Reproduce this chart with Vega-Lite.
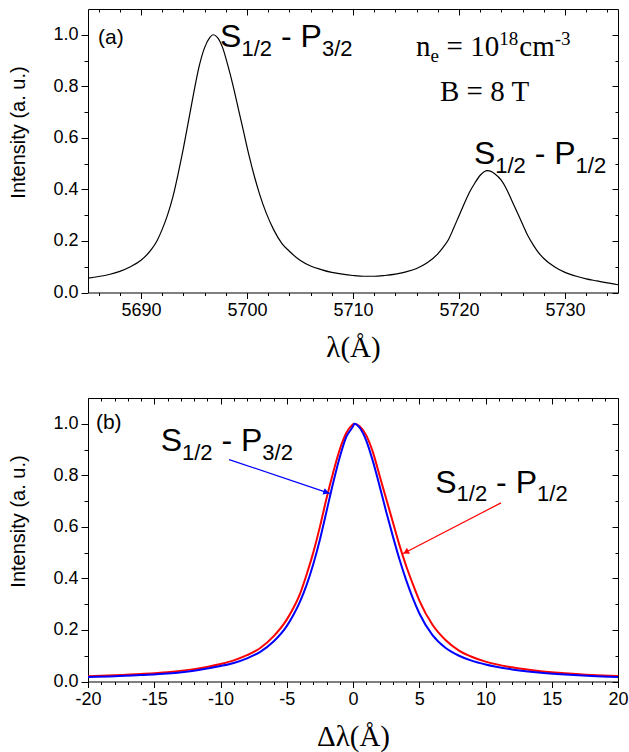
{
  "$schema": "https://vega.github.io/schema/vega-lite/v6.json",
  "background": "white",
  "padding": {"left": 8, "top": 8, "right": 0, "bottom": 0},
  "bounds": "flush",
  "spacing": 105,
  "datasets": {
    "curveA": [
      {"wavelength": 5685, "intensity": 0.056}, {"wavelength": 5686, "intensity": 0.062},
      {"wavelength": 5687, "intensity": 0.070}, {"wavelength": 5688, "intensity": 0.082},
      {"wavelength": 5689, "intensity": 0.100}, {"wavelength": 5690, "intensity": 0.125},
      {"wavelength": 5691, "intensity": 0.168}, {"wavelength": 5691.5, "intensity": 0.200},
      {"wavelength": 5692, "intensity": 0.245}, {"wavelength": 5692.5, "intensity": 0.300},
      {"wavelength": 5693, "intensity": 0.370}, {"wavelength": 5693.5, "intensity": 0.460},
      {"wavelength": 5694, "intensity": 0.560}, {"wavelength": 5694.5, "intensity": 0.670},
      {"wavelength": 5695, "intensity": 0.780}, {"wavelength": 5695.5, "intensity": 0.880},
      {"wavelength": 5696, "intensity": 0.950}, {"wavelength": 5696.5, "intensity": 0.990},
      {"wavelength": 5696.8, "intensity": 1.000}, {"wavelength": 5697.2, "intensity": 0.990},
      {"wavelength": 5697.7, "intensity": 0.950}, {"wavelength": 5698.2, "intensity": 0.880},
      {"wavelength": 5698.7, "intensity": 0.800}, {"wavelength": 5699.2, "intensity": 0.710},
      {"wavelength": 5699.7, "intensity": 0.620}, {"wavelength": 5700.2, "intensity": 0.530},
      {"wavelength": 5700.7, "intensity": 0.450}, {"wavelength": 5701.2, "intensity": 0.380},
      {"wavelength": 5701.8, "intensity": 0.310}, {"wavelength": 5702.5, "intensity": 0.245},
      {"wavelength": 5703.3, "intensity": 0.190}, {"wavelength": 5704, "intensity": 0.160},
      {"wavelength": 5705, "intensity": 0.125}, {"wavelength": 5706, "intensity": 0.103},
      {"wavelength": 5707, "intensity": 0.089}, {"wavelength": 5708, "intensity": 0.078},
      {"wavelength": 5709, "intensity": 0.071}, {"wavelength": 5710, "intensity": 0.066},
      {"wavelength": 5711, "intensity": 0.063}, {"wavelength": 5712, "intensity": 0.063},
      {"wavelength": 5713, "intensity": 0.066}, {"wavelength": 5714, "intensity": 0.071},
      {"wavelength": 5715, "intensity": 0.080}, {"wavelength": 5716, "intensity": 0.093},
      {"wavelength": 5717, "intensity": 0.115}, {"wavelength": 5718, "intensity": 0.150},
      {"wavelength": 5718.5, "intensity": 0.175}, {"wavelength": 5719, "intensity": 0.205},
      {"wavelength": 5719.5, "intensity": 0.250}, {"wavelength": 5720, "intensity": 0.298},
      {"wavelength": 5720.5, "intensity": 0.345}, {"wavelength": 5721, "intensity": 0.390},
      {"wavelength": 5721.5, "intensity": 0.425}, {"wavelength": 5722, "intensity": 0.455},
      {"wavelength": 5722.7, "intensity": 0.473}, {"wavelength": 5723.4, "intensity": 0.460},
      {"wavelength": 5724, "intensity": 0.435}, {"wavelength": 5724.5, "intensity": 0.400},
      {"wavelength": 5725, "intensity": 0.355}, {"wavelength": 5725.5, "intensity": 0.310},
      {"wavelength": 5726, "intensity": 0.265}, {"wavelength": 5726.5, "intensity": 0.220},
      {"wavelength": 5727, "intensity": 0.185}, {"wavelength": 5727.5, "intensity": 0.155},
      {"wavelength": 5728, "intensity": 0.132}, {"wavelength": 5729, "intensity": 0.100},
      {"wavelength": 5730, "intensity": 0.078}, {"wavelength": 5731, "intensity": 0.064},
      {"wavelength": 5732, "intensity": 0.053}, {"wavelength": 5733, "intensity": 0.045},
      {"wavelength": 5734, "intensity": 0.037}, {"wavelength": 5735, "intensity": 0.030}
    ],
    "curveB": [
      {"line": "S1/2 - P3/2", "shift": -20, "intensity": 0.017}, {"line": "S1/2 - P3/2", "shift": -18, "intensity": 0.020},
      {"line": "S1/2 - P3/2", "shift": -16, "intensity": 0.025}, {"line": "S1/2 - P3/2", "shift": -14, "intensity": 0.031},
      {"line": "S1/2 - P3/2", "shift": -12, "intensity": 0.042}, {"line": "S1/2 - P3/2", "shift": -10, "intensity": 0.060},
      {"line": "S1/2 - P3/2", "shift": -9, "intensity": 0.072}, {"line": "S1/2 - P3/2", "shift": -8, "intensity": 0.090},
      {"line": "S1/2 - P3/2", "shift": -7, "intensity": 0.115}, {"line": "S1/2 - P3/2", "shift": -6, "intensity": 0.155},
      {"line": "S1/2 - P3/2", "shift": -5, "intensity": 0.215}, {"line": "S1/2 - P3/2", "shift": -4.5, "intensity": 0.258},
      {"line": "S1/2 - P3/2", "shift": -4, "intensity": 0.310}, {"line": "S1/2 - P3/2", "shift": -3.5, "intensity": 0.375},
      {"line": "S1/2 - P3/2", "shift": -3, "intensity": 0.455}, {"line": "S1/2 - P3/2", "shift": -2.5, "intensity": 0.550},
      {"line": "S1/2 - P3/2", "shift": -2, "intensity": 0.660}, {"line": "S1/2 - P3/2", "shift": -1.5, "intensity": 0.770},
      {"line": "S1/2 - P3/2", "shift": -1, "intensity": 0.870}, {"line": "S1/2 - P3/2", "shift": -0.5, "intensity": 0.950},
      {"line": "S1/2 - P3/2", "shift": 0, "intensity": 0.990}, {"line": "S1/2 - P3/2", "shift": 0.1, "intensity": 1.000},
      {"line": "S1/2 - P3/2", "shift": 0.5, "intensity": 0.985}, {"line": "S1/2 - P3/2", "shift": 1, "intensity": 0.935},
      {"line": "S1/2 - P3/2", "shift": 1.5, "intensity": 0.855}, {"line": "S1/2 - P3/2", "shift": 2, "intensity": 0.760},
      {"line": "S1/2 - P3/2", "shift": 2.5, "intensity": 0.660}, {"line": "S1/2 - P3/2", "shift": 3, "intensity": 0.565},
      {"line": "S1/2 - P3/2", "shift": 3.5, "intensity": 0.475}, {"line": "S1/2 - P3/2", "shift": 4, "intensity": 0.395},
      {"line": "S1/2 - P3/2", "shift": 4.5, "intensity": 0.325}, {"line": "S1/2 - P3/2", "shift": 5, "intensity": 0.265},
      {"line": "S1/2 - P3/2", "shift": 6, "intensity": 0.180}, {"line": "S1/2 - P3/2", "shift": 7, "intensity": 0.130},
      {"line": "S1/2 - P3/2", "shift": 8, "intensity": 0.100}, {"line": "S1/2 - P3/2", "shift": 9, "intensity": 0.080},
      {"line": "S1/2 - P3/2", "shift": 10, "intensity": 0.066}, {"line": "S1/2 - P3/2", "shift": 12, "intensity": 0.047},
      {"line": "S1/2 - P3/2", "shift": 14, "intensity": 0.035}, {"line": "S1/2 - P3/2", "shift": 16, "intensity": 0.027},
      {"line": "S1/2 - P3/2", "shift": 18, "intensity": 0.021}, {"line": "S1/2 - P3/2", "shift": 20, "intensity": 0.017},
      {"line": "S1/2 - P1/2", "shift": -20, "intensity": 0.020}, {"line": "S1/2 - P1/2", "shift": -18, "intensity": 0.024},
      {"line": "S1/2 - P1/2", "shift": -16, "intensity": 0.029}, {"line": "S1/2 - P1/2", "shift": -14, "intensity": 0.036},
      {"line": "S1/2 - P1/2", "shift": -12, "intensity": 0.048}, {"line": "S1/2 - P1/2", "shift": -10, "intensity": 0.068},
      {"line": "S1/2 - P1/2", "shift": -9, "intensity": 0.082}, {"line": "S1/2 - P1/2", "shift": -8, "intensity": 0.102},
      {"line": "S1/2 - P1/2", "shift": -7, "intensity": 0.130}, {"line": "S1/2 - P1/2", "shift": -6, "intensity": 0.175},
      {"line": "S1/2 - P1/2", "shift": -5, "intensity": 0.240}, {"line": "S1/2 - P1/2", "shift": -4.5, "intensity": 0.285},
      {"line": "S1/2 - P1/2", "shift": -4, "intensity": 0.340}, {"line": "S1/2 - P1/2", "shift": -3.5, "intensity": 0.415},
      {"line": "S1/2 - P1/2", "shift": -3, "intensity": 0.500}, {"line": "S1/2 - P1/2", "shift": -2.5, "intensity": 0.600},
      {"line": "S1/2 - P1/2", "shift": -2, "intensity": 0.710}, {"line": "S1/2 - P1/2", "shift": -1.5, "intensity": 0.810},
      {"line": "S1/2 - P1/2", "shift": -1, "intensity": 0.900}, {"line": "S1/2 - P1/2", "shift": -0.5, "intensity": 0.965},
      {"line": "S1/2 - P1/2", "shift": 0, "intensity": 0.998}, {"line": "S1/2 - P1/2", "shift": 0.05, "intensity": 1.000},
      {"line": "S1/2 - P1/2", "shift": 0.5, "intensity": 0.990}, {"line": "S1/2 - P1/2", "shift": 1, "intensity": 0.955},
      {"line": "S1/2 - P1/2", "shift": 1.5, "intensity": 0.890}, {"line": "S1/2 - P1/2", "shift": 2, "intensity": 0.800},
      {"line": "S1/2 - P1/2", "shift": 2.5, "intensity": 0.710}, {"line": "S1/2 - P1/2", "shift": 3, "intensity": 0.620},
      {"line": "S1/2 - P1/2", "shift": 3.5, "intensity": 0.530}, {"line": "S1/2 - P1/2", "shift": 4, "intensity": 0.450},
      {"line": "S1/2 - P1/2", "shift": 4.5, "intensity": 0.380}, {"line": "S1/2 - P1/2", "shift": 5, "intensity": 0.315},
      {"line": "S1/2 - P1/2", "shift": 6, "intensity": 0.220}, {"line": "S1/2 - P1/2", "shift": 7, "intensity": 0.160},
      {"line": "S1/2 - P1/2", "shift": 8, "intensity": 0.120}, {"line": "S1/2 - P1/2", "shift": 9, "intensity": 0.095},
      {"line": "S1/2 - P1/2", "shift": 10, "intensity": 0.077}, {"line": "S1/2 - P1/2", "shift": 12, "intensity": 0.055},
      {"line": "S1/2 - P1/2", "shift": 14, "intensity": 0.041}, {"line": "S1/2 - P1/2", "shift": 16, "intensity": 0.032},
      {"line": "S1/2 - P1/2", "shift": 18, "intensity": 0.025}, {"line": "S1/2 - P1/2", "shift": 20, "intensity": 0.021}
    ],
    "annotA": [
      {"kind": "sans", "x": 5697.46, "y": 0.951, "text": "S"},
      {"kind": "sans-sub", "x": 5699.48, "y": 0.951, "text": "1/2"},
      {"kind": "sans", "x": 5703.21, "y": 0.951, "text": "- P"},
      {"kind": "sans-sub", "x": 5707.07, "y": 0.951, "text": "3/2"},
      {"kind": "sans", "x": 5721.42, "y": 0.498, "text": "S"},
      {"kind": "sans-sub", "x": 5723.42, "y": 0.498, "text": "1/2"},
      {"kind": "sans", "x": 5727.15, "y": 0.498, "text": "- P"},
      {"kind": "sans-sub", "x": 5731.0, "y": 0.498, "text": "1/2"},
      {"kind": "serif", "x": 5715.94, "y": 0.916, "text": "n"},
      {"kind": "serif-sub", "x": 5717.31, "y": 0.916, "text": "e"},
      {"kind": "serif", "x": 5718.83, "y": 0.916, "text": "= 10"},
      {"kind": "serif-sup", "x": 5723.8, "y": 0.916, "text": "18"},
      {"kind": "serif", "x": 5725.69, "y": 0.916, "text": "cm"},
      {"kind": "serif-sup", "x": 5729.03, "y": 0.916, "text": "-3"},
      {"kind": "serif", "x": 5718.21, "y": 0.744, "text": "B = 8 T"},
      {"kind": "tag", "x": 5685.94, "y": 0.965, "text": "(a)"}
    ],
    "annotB": [
      {"kind": "sans", "x": -14.51, "y": 0.894, "text": "S"},
      {"kind": "sans-sub", "x": -12.91, "y": 0.894, "text": "1/2"},
      {"kind": "sans", "x": -9.93, "y": 0.894, "text": "- P"},
      {"kind": "sans-sub", "x": -6.84, "y": 0.894, "text": "3/2"},
      {"kind": "sans", "x": 6.21, "y": 0.732, "text": "S"},
      {"kind": "sans-sub", "x": 7.82, "y": 0.732, "text": "1/2"},
      {"kind": "sans", "x": 10.8, "y": 0.732, "text": "- P"},
      {"kind": "sans-sub", "x": 13.89, "y": 0.732, "text": "1/2"},
      {"kind": "tag", "x": -19.4, "y": 0.981, "text": "(b)"}
    ],
    "arrowsB": [
      {"line": "S1/2 - P3/2", "x": -9.35, "y": 0.861, "x2": -1.72, "y2": 0.729, "hx": -2.01, "hy": 0.734},
      {"line": "S1/2 - P1/2", "x": 11.17, "y": 0.693, "x2": 3.72, "y2": 0.495, "hx": 3.99, "hy": 0.502}
    ]
  },
  "vconcat": [
    {
      "width": 530,
      "height": 283.5,
      "resolve": {"axis": {"x": "independent", "y": "independent"}},
      "layer": [
        {
          "data": {"name": "curveA"},
          "mark": {"type": "line", "color": "black", "strokeWidth": 1.2, "interpolate": "monotone"},
          "encoding": {
            "x": {"field": "wavelength", "type": "quantitative",
                  "scale": {"domain": [5685, 5735], "nice": false, "zero": false},
                  "axis": {"orient": "bottom", "values": [5690, 5700, 5710, 5720, 5730], "format": "d",
                           "tickSize": 6, "labelPadding": 3, "labelFlush": false,
                           "title": "λ(Å)", "titleFont": "Liberation Serif", "titleFontSize": 29,
                           "titleX": 265, "titleY": 64, "titleBaseline": "alphabetic", "titleAlign": "center"}},
            "y": {"field": "intensity", "type": "quantitative",
                  "scale": {"domain": [0, 1.1], "nice": false},
                  "axis": {"orient": "left", "values": [0, 0.2, 0.4, 0.6, 0.8, 1.0], "format": ".1f",
                           "tickSize": 7, "labelPadding": 3,
                           "title": "Intensity (a. u.)", "titleFontSize": 20,
                           "titleX": -70, "titleY": 123, "titleAngle": 270,
                           "titleBaseline": "middle", "titleAlign": "center"}}
          }
        },
        {
          "data": {"name": "annotA"},
          "transform": [{"filter": "datum.kind === 'sans'"}],
          "mark": {"type": "text", "font": "Liberation Sans", "fontSize": 32, "align": "left", "baseline": "alphabetic", "color": "black"},
          "encoding": {
            "x": {"field": "x", "type": "quantitative", "scale": {"domain": [5685, 5735], "nice": false, "zero": false},
                  "axis": {"orient": "bottom", "values": [5686, 5688, 5692, 5694, 5696, 5698, 5702, 5704, 5706, 5708, 5712, 5714, 5716, 5718, 5722, 5724, 5726, 5728, 5732, 5734],
                           "tickSize": 3, "labels": false, "domain": false, "title": null}},
            "y": {"field": "y", "type": "quantitative", "scale": {"domain": [0, 1.1], "nice": false},
                  "axis": {"orient": "left", "values": [0.1, 0.3, 0.5, 0.7, 0.9], "tickSize": 4, "labels": false, "domain": false, "title": null}},
            "text": {"field": "text"}
          }
        },
        {
          "data": {"name": "annotA"},
          "transform": [{"filter": "datum.kind === 'sans-sub'"}],
          "mark": {"type": "text", "font": "Liberation Sans", "fontSize": 22, "align": "left", "baseline": "alphabetic", "dy": 8.5, "color": "black"},
          "encoding": {
            "x": {"field": "x", "type": "quantitative", "scale": {"domain": [5685, 5735], "nice": false, "zero": false},
                  "axis": {"orient": "top", "values": [5690, 5700, 5710, 5720, 5730], "tickSize": -6, "labels": false, "domain": true, "title": null}},
            "y": {"field": "y", "type": "quantitative", "scale": {"domain": [0, 1.1], "nice": false},
                  "axis": {"orient": "right", "values": [0, 0.2, 0.4, 0.6, 0.8, 1.0], "tickSize": -6, "labels": false, "domain": true, "title": null}},
            "text": {"field": "text"}
          }
        },
        {
          "data": {"name": "annotA"},
          "transform": [{"filter": "datum.kind === 'serif'"}],
          "mark": {"type": "text", "font": "Liberation Serif", "fontSize": 29, "align": "left", "baseline": "alphabetic", "color": "black"},
          "encoding": {
            "x": {"field": "x", "type": "quantitative", "scale": {"domain": [5685, 5735], "nice": false, "zero": false},
                  "axis": {"orient": "top", "values": [5686, 5688, 5692, 5694, 5696, 5698, 5702, 5704, 5706, 5708, 5712, 5714, 5716, 5718, 5722, 5724, 5726, 5728, 5732, 5734],
                           "tickSize": -3, "labels": false, "domain": false, "title": null}},
            "y": {"field": "y", "type": "quantitative", "scale": {"domain": [0, 1.1], "nice": false},
                  "axis": {"orient": "right", "values": [0.1, 0.3, 0.5, 0.7, 0.9], "tickSize": -3, "labels": false, "domain": false, "title": null}},
            "text": {"field": "text"}
          }
        },
        {
          "data": {"name": "annotA"},
          "transform": [{"filter": "datum.kind === 'serif-sub'"}],
          "mark": {"type": "text", "font": "Liberation Serif", "fontSize": 19, "align": "left", "baseline": "alphabetic", "dy": 6, "color": "black"},
          "encoding": {
            "x": {"field": "x", "type": "quantitative", "scale": {"domain": [5685, 5735], "nice": false, "zero": false}, "axis": null},
            "y": {"field": "y", "type": "quantitative", "scale": {"domain": [0, 1.1], "nice": false}, "axis": null},
            "text": {"field": "text"}
          }
        },
        {
          "data": {"name": "annotA"},
          "transform": [{"filter": "datum.kind === 'serif-sup'"}],
          "mark": {"type": "text", "font": "Liberation Serif", "fontSize": 19, "align": "left", "baseline": "alphabetic", "dy": -11, "color": "black"},
          "encoding": {
            "x": {"field": "x", "type": "quantitative", "scale": {"domain": [5685, 5735], "nice": false, "zero": false}, "axis": null},
            "y": {"field": "y", "type": "quantitative", "scale": {"domain": [0, 1.1], "nice": false}, "axis": null},
            "text": {"field": "text"}
          }
        },
        {
          "data": {"name": "annotA"},
          "transform": [{"filter": "datum.kind === 'tag'"}],
          "mark": {"type": "text", "font": "Liberation Sans", "fontSize": 21, "align": "left", "baseline": "alphabetic", "color": "black"},
          "encoding": {
            "x": {"field": "x", "type": "quantitative", "scale": {"domain": [5685, 5735], "nice": false, "zero": false}, "axis": null},
            "y": {"field": "y", "type": "quantitative", "scale": {"domain": [0, 1.1], "nice": false}, "axis": null},
            "text": {"field": "text"}
          }
        }
      ]
    },
    {
      "width": 530,
      "height": 283.5,
      "resolve": {"axis": {"x": "independent", "y": "independent"}},
      "layer": [
        {
          "data": {"name": "curveB"},
          "transform": [{"filter": "datum.line === 'S1/2 - P1/2'"}],
          "mark": {"type": "line", "color": "#ff0000", "strokeWidth": 2, "interpolate": "monotone"},
          "encoding": {
            "x": {"field": "shift", "type": "quantitative",
                  "scale": {"domain": [-20, 20], "nice": false, "zero": false},
                  "axis": {"orient": "bottom", "values": [-20, -15, -10, -5, 0, 5, 10, 15, 20], "labelExpr": "'' + datum.value",
                           "tickSize": 6, "labelPadding": 3, "labelFlush": false, "labelOverlap": false,
                           "title": "Δλ(Å)", "titleFont": "Liberation Serif", "titleFontSize": 29,
                           "titleX": 265, "titleY": 64, "titleBaseline": "alphabetic", "titleAlign": "center"}},
            "y": {"field": "intensity", "type": "quantitative",
                  "scale": {"domain": [0, 1.1], "nice": false},
                  "axis": {"orient": "left", "values": [0, 0.2, 0.4, 0.6, 0.8, 1.0], "format": ".1f",
                           "tickSize": 7, "labelPadding": 3,
                           "title": "Intensity (a. u.)", "titleFontSize": 20,
                           "titleX": -70, "titleY": 123, "titleAngle": 270,
                           "titleBaseline": "middle", "titleAlign": "center"}}
          }
        },
        {
          "data": {"name": "curveB"},
          "transform": [{"filter": "datum.line === 'S1/2 - P3/2'"}],
          "mark": {"type": "line", "color": "#0000ff", "strokeWidth": 2, "interpolate": "monotone"},
          "encoding": {
            "x": {"field": "shift", "type": "quantitative", "scale": {"domain": [-20, 20], "nice": false, "zero": false},
                  "axis": {"orient": "bottom", "values": [-19, -18, -17, -16, -14, -13, -12, -11, -9, -8, -7, -6, -4, -3, -2, -1, 1, 2, 3, 4, 6, 7, 8, 9, 11, 12, 13, 14, 16, 17, 18, 19],
                           "tickSize": 3, "labels": false, "domain": false, "title": null}},
            "y": {"field": "intensity", "type": "quantitative", "scale": {"domain": [0, 1.1], "nice": false},
                  "axis": {"orient": "left", "values": [0.1, 0.3, 0.5, 0.7, 0.9], "tickSize": 4, "labels": false, "domain": false, "title": null}}
          }
        },
        {
          "data": {"name": "annotB"},
          "transform": [{"filter": "datum.kind === 'sans'"}],
          "mark": {"type": "text", "font": "Liberation Sans", "fontSize": 32, "align": "left", "baseline": "alphabetic", "color": "black"},
          "encoding": {
            "x": {"field": "x", "type": "quantitative", "scale": {"domain": [-20, 20], "nice": false, "zero": false},
                  "axis": {"orient": "top", "values": [-20, -15, -10, -5, 0, 5, 10, 15, 20], "tickSize": -6, "labels": false, "domain": true, "title": null}},
            "y": {"field": "y", "type": "quantitative", "scale": {"domain": [0, 1.1], "nice": false},
                  "axis": {"orient": "right", "values": [0, 0.2, 0.4, 0.6, 0.8, 1.0], "tickSize": -6, "labels": false, "domain": true, "title": null}},
            "text": {"field": "text"}
          }
        },
        {
          "data": {"name": "annotB"},
          "transform": [{"filter": "datum.kind === 'sans-sub'"}],
          "mark": {"type": "text", "font": "Liberation Sans", "fontSize": 22, "align": "left", "baseline": "alphabetic", "dy": 8.5, "color": "black"},
          "encoding": {
            "x": {"field": "x", "type": "quantitative", "scale": {"domain": [-20, 20], "nice": false, "zero": false},
                  "axis": {"orient": "top", "values": [-19, -18, -17, -16, -14, -13, -12, -11, -9, -8, -7, -6, -4, -3, -2, -1, 1, 2, 3, 4, 6, 7, 8, 9, 11, 12, 13, 14, 16, 17, 18, 19],
                           "tickSize": -3, "labels": false, "domain": false, "title": null}},
            "y": {"field": "y", "type": "quantitative", "scale": {"domain": [0, 1.1], "nice": false},
                  "axis": {"orient": "right", "values": [0.1, 0.3, 0.5, 0.7, 0.9], "tickSize": -3, "labels": false, "domain": false, "title": null}},
            "text": {"field": "text"}
          }
        },
        {
          "data": {"name": "arrowsB"},
          "mark": {"type": "rule", "strokeWidth": 1.2},
          "encoding": {
            "x": {"field": "x", "type": "quantitative", "scale": {"domain": [-20, 20], "nice": false, "zero": false}, "axis": null},
            "y": {"field": "y", "type": "quantitative", "scale": {"domain": [0, 1.1], "nice": false}, "axis": null},
            "x2": {"field": "x2"},
            "y2": {"field": "y2"},
            "color": {"field": "line", "type": "nominal", "scale": {"domain": ["S1/2 - P3/2", "S1/2 - P1/2"], "range": ["#0000ff", "#ff0000"]}, "legend": null}
          }
        },
        {
          "data": {"name": "arrowsB"},
          "transform": [{"filter": "datum.line === 'S1/2 - P3/2'"}],
          "mark": {"type": "point", "shape": "triangle-right", "filled": true, "color": "#0000ff", "size": 45, "angle": 18.6, "opacity": 1},
          "encoding": {
            "x": {"field": "hx", "type": "quantitative", "scale": {"domain": [-20, 20], "nice": false, "zero": false}, "axis": null},
            "y": {"field": "hy", "type": "quantitative", "scale": {"domain": [0, 1.1], "nice": false}, "axis": null}
          }
        },
        {
          "data": {"name": "arrowsB"},
          "transform": [{"filter": "datum.line === 'S1/2 - P1/2'"}],
          "mark": {"type": "point", "shape": "triangle-right", "filled": true, "color": "#ff0000", "size": 45, "angle": 152.6, "opacity": 1},
          "encoding": {
            "x": {"field": "hx", "type": "quantitative", "scale": {"domain": [-20, 20], "nice": false, "zero": false}, "axis": null},
            "y": {"field": "hy", "type": "quantitative", "scale": {"domain": [0, 1.1], "nice": false}, "axis": null}
          }
        },
        {
          "data": {"name": "annotB"},
          "transform": [{"filter": "datum.kind === 'tag'"}],
          "mark": {"type": "text", "font": "Liberation Sans", "fontSize": 21, "align": "left", "baseline": "alphabetic", "color": "black"},
          "encoding": {
            "x": {"field": "x", "type": "quantitative", "scale": {"domain": [-20, 20], "nice": false, "zero": false}, "axis": null},
            "y": {"field": "y", "type": "quantitative", "scale": {"domain": [0, 1.1], "nice": false}, "axis": null},
            "text": {"field": "text"}
          }
        }
      ]
    }
  ],
  "config": {
    "view": {"stroke": null},
    "axis": {
      "grid": false,
      "labelFont": "Liberation Sans",
      "labelFontSize": 18,
      "labelColor": "black",
      "titleFont": "Liberation Sans",
      "titleFontWeight": "normal",
      "titleColor": "black",
      "domainColor": "black",
      "domainWidth": 1,
      "tickColor": "black",
      "tickWidth": 1
    }
  }
}
